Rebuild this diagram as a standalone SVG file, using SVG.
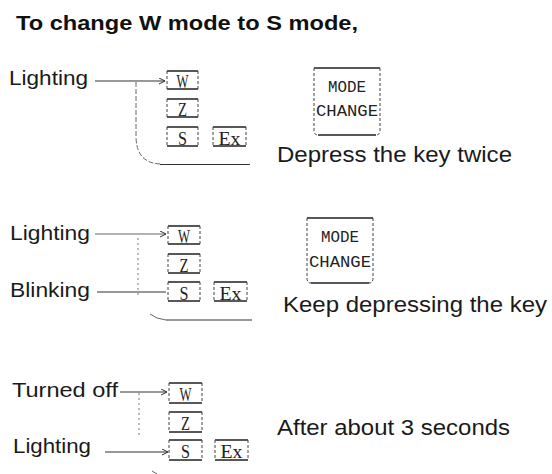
<svg xmlns="http://www.w3.org/2000/svg" width="552" height="474" viewBox="0 0 552 474">
<style>
.title{font-family:"Liberation Sans",Arial,sans-serif;font-weight:bold;font-size:21px;fill:#111}
.lbl{font-family:"Liberation Sans",Arial,sans-serif;font-size:21px;fill:#1a1a1a}
.desc{font-family:"Liberation Sans",Arial,sans-serif;font-size:22px;fill:#1a1a1a}
.kt{font-family:"Liberation Serif","Times New Roman",serif;font-size:19px;fill:#222;text-anchor:middle}
.mt{font-family:"Liberation Mono","Courier New",monospace;font-size:17px;fill:#222;text-anchor:middle}
.solid{fill:none;stroke:#222;stroke-width:1.3}
.dash{fill:none;stroke:#444;stroke-width:1;stroke-dasharray:3 2}
.conn{fill:none;stroke:#333;stroke-width:1.1}
.thin{fill:none;stroke:#555;stroke-width:0.9}
.dot{fill:none;stroke:#777;stroke-width:1;stroke-dasharray:2 3}
.dcurve{fill:none;stroke:#666;stroke-width:1;stroke-dasharray:5 2}
</style>
<defs>
<marker id="arr" markerWidth="8" markerHeight="8" refX="6" refY="3" orient="auto" markerUnits="userSpaceOnUse">
<path d="M0,0 L6,3 L0,6" fill="none" stroke="#333" stroke-width="1"/>
</marker>
</defs>

<text class="title" x="16" y="30" textLength="342" lengthAdjust="spacingAndGlyphs">To change W mode to S mode,</text>

<!-- Section 1 -->
<g id="s1-lighting"><text class="lbl" x="9" y="85" textLength="79" lengthAdjust="spacingAndGlyphs">Lighting</text></g>
<g id="s1-keyW"><path class="solid" d="M167,71 h31 M167,89 h31"/><path class="dash" d="M167,71 v18 M198,71 v18"/><text class="kt" x="182.5" y="87.5" textLength="12" lengthAdjust="spacingAndGlyphs">W</text></g>
<g id="s1-keyZ"><path class="solid" d="M167,99 h31 M167,117 h31"/><path class="dash" d="M167,99 v18 M198,99 v18"/><text class="kt" x="182.5" y="115.5" textLength="9" lengthAdjust="spacingAndGlyphs">Z</text></g>
<g id="s1-keyS"><path class="solid" d="M167,127 h31 M167,146 h31"/><path class="dash" d="M167,127 v19 M198,127 v19"/><text class="kt" x="182.5" y="144.5" textLength="9" lengthAdjust="spacingAndGlyphs">S</text></g>
<g id="s1-keyEx"><path class="solid" d="M213,127 h33 M213,146 h33"/><path class="dash" d="M213,127 v19 M246,127 v19"/><text class="kt" x="229.5" y="144.5" textLength="22" lengthAdjust="spacingAndGlyphs">Ex</text></g>
<g id="s1-mode"><path class="solid" d="M314,68 h66 M318,135 h58"/><path class="dash" d="M314,68 v62 q0,5 4,5 M380,68 v62 q0,5 -4,5"/><text class="mt" x="347" y="92" textLength="38" lengthAdjust="spacingAndGlyphs">MODE</text><text class="mt" x="347" y="116" textLength="62" lengthAdjust="spacingAndGlyphs">CHANGE</text></g>
<g id="s1-desc"><text class="desc" x="277" y="162" textLength="235" lengthAdjust="spacingAndGlyphs">Depress the key twice</text></g>

<!-- Section 2 -->
<g id="s2-lighting"><text class="lbl" x="10" y="240" textLength="80" lengthAdjust="spacingAndGlyphs">Lighting</text></g>
<g id="s2-blinking"><text class="lbl" x="10" y="297" textLength="80" lengthAdjust="spacingAndGlyphs">Blinking</text></g>
<g id="s2-keyW"><path class="solid" d="M168,226 h32 M168,244 h32"/><path class="dash" d="M168,226 v18 M200,226 v18"/><text class="kt" x="184" y="242.5" textLength="12" lengthAdjust="spacingAndGlyphs">W</text></g>
<g id="s2-keyZ"><path class="solid" d="M168,254 h32 M168,273 h32"/><path class="dash" d="M168,254 v19 M200,254 v19"/><text class="kt" x="184" y="271.5" textLength="9" lengthAdjust="spacingAndGlyphs">Z</text></g>
<g id="s2-keyS"><path class="solid" d="M168,282 h32 M168,301 h32"/><path class="dash" d="M168,282 v19 M200,282 v19"/><text class="kt" x="184" y="299.5" textLength="9" lengthAdjust="spacingAndGlyphs">S</text></g>
<g id="s2-keyEx"><path class="solid" d="M214,282 h33 M214,301 h33"/><path class="dash" d="M214,282 v19 M247,282 v19"/><text class="kt" x="230.5" y="299.5" textLength="22" lengthAdjust="spacingAndGlyphs">Ex</text></g>
<g id="s2-mode"><path class="solid" d="M307,218 h66 M311,283 h58"/><path class="dash" d="M307,218 v60 q0,5 4,5 M373,218 v60 q0,5 -4,5"/><text class="mt" x="340" y="242" textLength="38" lengthAdjust="spacingAndGlyphs">MODE</text><text class="mt" x="340" y="267" textLength="62" lengthAdjust="spacingAndGlyphs">CHANGE</text></g>
<g id="s2-desc"><text class="desc" x="283" y="312" textLength="264" lengthAdjust="spacingAndGlyphs">Keep depressing the key</text></g>

<!-- Section 3 -->
<g id="s3-off"><text class="lbl" x="12" y="397" textLength="106" lengthAdjust="spacingAndGlyphs">Turned off</text></g>
<g id="s3-lighting"><text class="lbl" x="13" y="453" textLength="78" lengthAdjust="spacingAndGlyphs">Lighting</text></g>
<g id="s3-keyW"><path class="solid" d="M169,383 h33 M169,403 h33"/><path class="dash" d="M169,383 v20 M202,383 v20"/><text class="kt" x="185.5" y="400.5" textLength="12" lengthAdjust="spacingAndGlyphs">W</text></g>
<g id="s3-keyZ"><path class="solid" d="M169,412 h33 M169,432 h33"/><path class="dash" d="M169,412 v20 M202,412 v20"/><text class="kt" x="185.5" y="429.5" textLength="9" lengthAdjust="spacingAndGlyphs">Z</text></g>
<g id="s3-keyS"><path class="solid" d="M169,440 h33 M169,460 h33"/><path class="dash" d="M169,440 v20 M202,440 v20"/><text class="kt" x="185.5" y="457.5" textLength="9" lengthAdjust="spacingAndGlyphs">S</text></g>
<g id="s3-keyEx"><path class="solid" d="M215,440 h33 M215,460 h33"/><path class="dash" d="M215,440 v20 M248,440 v20"/><text class="kt" x="231.5" y="457.5" textLength="22" lengthAdjust="spacingAndGlyphs">Ex</text></g>
<g id="s3-desc"><text class="desc" x="277" y="435" textLength="233" lengthAdjust="spacingAndGlyphs">After about 3 seconds</text></g>

<g id="connectors">
<!-- section 1 -->
<path class="conn" d="M95,81 H165" marker-end="url(#arr)"/>
<path class="dcurve" d="M136,82 V136 Q136,164 162,164"/>
<path class="conn" d="M160,164.5 H250"/>
<!-- section 2 -->
<path class="thin" d="M95,234 H166" marker-end="url(#arr)"/>
<path class="conn" d="M97,292 H166"/>
<path class="dot" d="M138,238 V297"/>
<path class="thin" d="M150,314 Q156,319 166,320"/>
<path class="conn" d="M166,320 H252"/>
<!-- section 3 -->
<path class="conn" d="M120,392 H167" marker-end="url(#arr)"/>
<path class="conn" d="M105,452 H168" marker-end="url(#arr)"/>
<path class="dot" d="M139,393 V438"/>
<path class="thin" d="M152,471 L157,474"/>
</g>
</svg>
